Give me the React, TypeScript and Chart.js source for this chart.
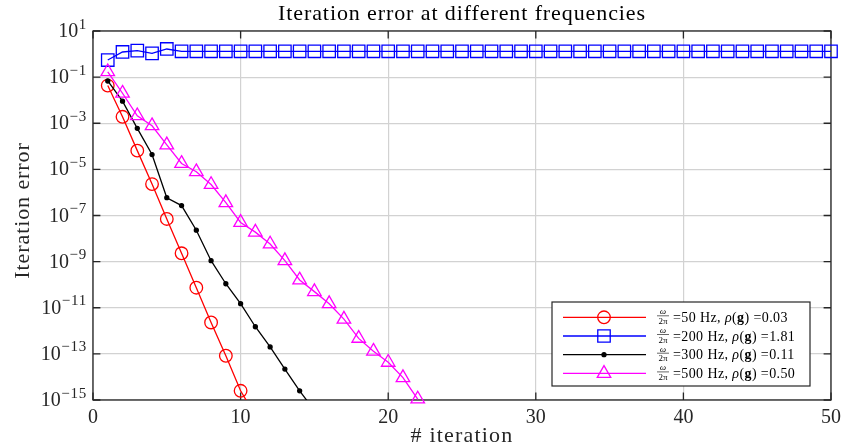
import React, { useEffect, useRef } from 'react';
import { Chart, registerables } from 'chart.js';

Chart.register(...registerables);

// ---- data ----
const redErr = [4.3e-2, 1.9e-3, 6.5e-5, 2.3e-6, 7.1e-8, 2.3e-9, 7.4e-11, 2.3e-12, 8.3e-14, 2.5e-15, 2.1e-16];
const blueErr = [
  0.55, 1.23, 1.4, 1.07, 1.66, 1.32, 1.32, 1.32, 1.32, 1.32,
  1.32, 1.32, 1.32, 1.32, 1.32, 1.32, 1.32, 1.32, 1.32, 1.32,
  1.32, 1.32, 1.32, 1.32, 1.32, 1.32, 1.32, 1.32, 1.32, 1.32,
  1.32, 1.32, 1.32, 1.32, 1.32, 1.32, 1.32, 1.32, 1.32, 1.32,
  1.32, 1.32, 1.32, 1.32, 1.32, 1.32, 1.32, 1.32, 1.32, 1.32,
];
const blackErr = [6.8e-2, 9.1e-3, 6.0e-4, 4.4e-5, 5.9e-7, 2.7e-7, 2.3e-8, 1.1e-9, 1.1e-10, 1.5e-11, 1.5e-12, 2.0e-13, 2.2e-14, 2.5e-15, 3.5e-16];
const magentaErr = [
  0.17, 2.0e-2, 2.1e-3, 7.8e-4, 1.15e-4, 1.8e-5, 7.9e-6, 2.2e-6, 3.6e-7, 5.0e-8,
  1.9e-8, 5.8e-9, 1.1e-9, 1.6e-10, 5.0e-11, 1.5e-11, 3.2e-12, 4.7e-13, 1.3e-13, 4.3e-14,
  9.3e-15, 1.1e-15,
];
const freqsHz = [50, 200, 300, 500];
const rhoValues = ['0.03', '1.81', '0.11', '0.50'];
const xTicks = [0, 10, 20, 30, 40, 50];
const yTickExps = [1, -1, -3, -5, -7, -9, -11, -13, -15];
const titleText = 'Iteration error at different frequencies';
const xLabel = '# iteration';
const yLabel = 'Iteration error';

const Y_MIN = 1e-15;
const Y_MAX = 10;
const X_MIN = 0;
const X_MAX = 50;
const SERIF = '"Liberation Serif", "Times New Roman", serif';
const GRID = '#d2d2d2';

type Series = { data: number[]; color: string; style: string; radius: number; filled: boolean };
const seriesList: Series[] = [
  { data: redErr, color: '#ff0000', style: 'circle', radius: 6.3, filled: false },
  { data: blueErr, color: '#0000ff', style: 'rect', radius: 8.8, filled: false },
  { data: blackErr, color: '#000000', style: 'circle', radius: 2, filled: true },
  { data: magentaErr, color: '#ff00ff', style: 'triangle', radius: 7.8, filled: false },
];

function toPoints(arr: number[]) {
  return arr.map((v, i) => ({ x: i + 1, y: v }));
}

function drawMarker(ctx: CanvasRenderingContext2D, s: Series, x: number, y: number) {
  ctx.save();
  ctx.strokeStyle = s.color;
  ctx.fillStyle = s.color;
  ctx.lineWidth = 1.3;
  ctx.beginPath();
  const r = s.radius;
  if (s.style === 'circle') {
    ctx.arc(x, y, r, 0, Math.PI * 2);
  } else if (s.style === 'rect') {
    const h = r * Math.SQRT1_2;
    ctx.rect(x - h, y - h, 2 * h, 2 * h);
  } else if (s.style === 'triangle') {
    ctx.moveTo(x, y - r);
    ctx.lineTo(x + r * Math.sin((2 * Math.PI) / 3), y - r * Math.cos((2 * Math.PI) / 3));
    ctx.lineTo(x + r * Math.sin((4 * Math.PI) / 3), y - r * Math.cos((4 * Math.PI) / 3));
    ctx.closePath();
  }
  if (s.filled) ctx.fill();
  ctx.stroke();
  ctx.restore();
}

const decorPlugin = {
  id: 'decor',
  beforeDatasetsDraw(chart: any) {
    const ctx: CanvasRenderingContext2D = chart.ctx;
    const ca = chart.chartArea;
    const xs = chart.scales.x;
    const ys = chart.scales.y;
    const tl = 7.4;
    ctx.save();
    ctx.strokeStyle = '#262626';
    ctx.lineWidth = 1.3;
    ctx.beginPath();
    xTicks.forEach((t) => {
      const px = xs.getPixelForValue(t);
      ctx.moveTo(px, ca.bottom);
      ctx.lineTo(px, ca.bottom - tl);
      ctx.moveTo(px, ca.top);
      ctx.lineTo(px, ca.top + tl);
    });
    yTickExps.forEach((e) => {
      const py = ys.getPixelForValue(Math.pow(10, e));
      ctx.moveTo(ca.left, py);
      ctx.lineTo(ca.left + tl, py);
      ctx.moveTo(ca.right, py);
      ctx.lineTo(ca.right - tl, py);
    });
    ctx.stroke();
    ctx.strokeRect(ca.left, ca.top, ca.right - ca.left, ca.bottom - ca.top);
    ctx.restore();
  },
  afterDraw(chart: any) {
    const ctx: CanvasRenderingContext2D = chart.ctx;
    const ca = chart.chartArea;
    const xs = chart.scales.x;
    const ys = chart.scales.y;
    ctx.save();
    ctx.fillStyle = '#262626';
    (ctx as any).letterSpacing = '0px';

    // x tick labels
    ctx.font = `20px ${SERIF}`;
    ctx.textAlign = 'center';
    ctx.textBaseline = 'alphabetic';
    xTicks.forEach((t) => {
      ctx.fillText(String(t), xs.getPixelForValue(t), ca.bottom + 23);
    });

    // y tick labels: 10^e
    yTickExps.forEach((e) => {
      const py = ys.getPixelForValue(Math.pow(10, e));
      const expText = e < 0 ? '\u2212' + String(-e) : String(e);
      ctx.font = `15px ${SERIF}`;
      (ctx as any).letterSpacing = '0.8px';
      ctx.textAlign = 'right';
      const right = ca.left - 6;
      const ew = ctx.measureText(expText).width;
      ctx.fillText(expText, right, py - 2.5);
      (ctx as any).letterSpacing = '0px';
      ctx.font = `20px ${SERIF}`;
      ctx.fillText('10', right - ew - 0.5, py + 6);
    });

    // title
    ctx.textAlign = 'center';
    ctx.font = `22px ${SERIF}`;
    (ctx as any).letterSpacing = '0.9px';
    ctx.fillStyle = '#000000';
    ctx.fillText(titleText, (ca.left + ca.right) / 2, 20);

    // x label
    (ctx as any).letterSpacing = '1.2px';
    ctx.fillStyle = '#262626';
    ctx.fillText(xLabel, (ca.left + ca.right) / 2, ca.bottom + 42);

    // y label
    ctx.save();
    ctx.translate(29, (ca.top + ca.bottom) / 2 - 5);
    ctx.rotate(-Math.PI / 2);
    (ctx as any).letterSpacing = '0.9px';
    ctx.fillText(yLabel, 0, 0);
    ctx.restore();
    (ctx as any).letterSpacing = '0px';

    // legend
    const bw = 258;
    const bh = 84;
    const bx = ca.right - 21 - bw;
    const by = ca.bottom - 14 - bh;
    ctx.fillStyle = '#ffffff';
    ctx.fillRect(bx, by, bw, bh);
    ctx.strokeStyle = '#262626';
    ctx.lineWidth = 1.2;
    ctx.strokeRect(bx, by, bw, bh);

    seriesList.forEach((s, i) => {
      const cy = by + 15.3 + i * 18.7;
      ctx.strokeStyle = s.color;
      ctx.lineWidth = 1.3;
      ctx.beginPath();
      ctx.moveTo(bx + 11, cy);
      ctx.lineTo(bx + 94, cy);
      ctx.stroke();
      drawMarker(ctx, s, bx + 52, cy);

      // fraction omega / 2pi
      const fx = bx + 111;
      ctx.fillStyle = '#000000';
      ctx.textAlign = 'center';
      ctx.font = `italic 9px ${SERIF}`;
      ctx.fillText('\u03c9', fx, cy - 3);
      ctx.strokeStyle = '#000000';
      ctx.lineWidth = 0.6;
      ctx.beginPath();
      ctx.moveTo(fx - 6, cy - 1.5);
      ctx.lineTo(fx + 6, cy - 1.5);
      ctx.stroke();
      ctx.font = `9px ${SERIF}`;
      ctx.fillText('2\u03c0', fx, cy + 6.5);

      // rest of text
      ctx.textAlign = 'left';
      let tx = bx + 121;
      const base = cy + 4.5;
      const segs: [string, string][] = [
        ['=' + freqsHz[i] + ' Hz, ', `14px ${SERIF}`],
        ['\u03c1', `italic 14px ${SERIF}`],
        ['(', `14px ${SERIF}`],
        ['g', `bold 14px ${SERIF}`],
        [') =' + rhoValues[i], `14px ${SERIF}`],
      ];
      (ctx as any).letterSpacing = '0.4px';
      segs.forEach(([t, f]) => {
        ctx.font = f;
        ctx.fillText(t, tx, base);
        tx += ctx.measureText(t).width;
      });
      (ctx as any).letterSpacing = '0px';
    });
    ctx.restore();
  },
};

export default function App() {
  const canvasRef = useRef<HTMLCanvasElement | null>(null);

  useEffect(() => {
    if (!canvasRef.current) return;
    const datasets: any[] = [];
    // Chart.js draws dataset 0 last (on top); reverse so later series sit on top like MATLAB
    const ordered = [...seriesList].reverse();
    ordered.forEach((s) => {
      const pts = toPoints(s.data);
      datasets.push({
        data: pts.filter((p) => p.y >= Y_MIN && p.y <= Y_MAX),
        showLine: false,
        pointStyle: s.style,
        pointRadius: s.radius,
        pointBorderColor: s.color,
        pointBackgroundColor: s.filled ? s.color : 'rgba(0,0,0,0)',
        pointBorderWidth: 1.3,
        borderColor: s.color,
        clip: false,
      });
      datasets.push({
        data: pts,
        showLine: true,
        borderColor: s.color,
        borderWidth: 1.3,
        pointRadius: 0,
        fill: false,
        tension: 0,
      });
    });

    const chart = new Chart(canvasRef.current, {
      type: 'scatter',
      data: { datasets },
      options: {
        animation: false,
        responsive: true,
        maintainAspectRatio: false,
        events: [],
        layout: { padding: { top: 31, right: 12, left: 0, bottom: 0 } },
        plugins: {
          legend: { display: false },
          tooltip: { enabled: false },
          title: { display: false },
        },
        scales: {
          x: {
            type: 'linear',
            min: X_MIN,
            max: X_MAX,
            ticks: { display: false, stepSize: 10 },
            grid: { color: GRID, lineWidth: 1.2, drawTicks: false },
            border: { display: false },
            afterFit: (scale: any) => {
              scale.height = 48;
            },
          },
          y: {
            type: 'logarithmic',
            min: Y_MIN,
            max: Y_MAX,
            ticks: { display: false },
            grid: { color: GRID, lineWidth: 1.2, drawTicks: false },
            border: { display: false },
            afterBuildTicks: (scale: any) => {
              scale.ticks = yTickExps.map((e) => ({ value: Math.pow(10, e) }));
            },
            afterFit: (scale: any) => {
              scale.width = 93;
            },
          },
        },
      },
      plugins: [decorPlugin],
    });
    return () => chart.destroy();
  }, []);

  return (
    <div style={{ position: 'fixed', left: 0, top: 0, width: 843, height: 448, background: '#ffffff' }}>
      <canvas ref={canvasRef} />
    </div>
  );
}
